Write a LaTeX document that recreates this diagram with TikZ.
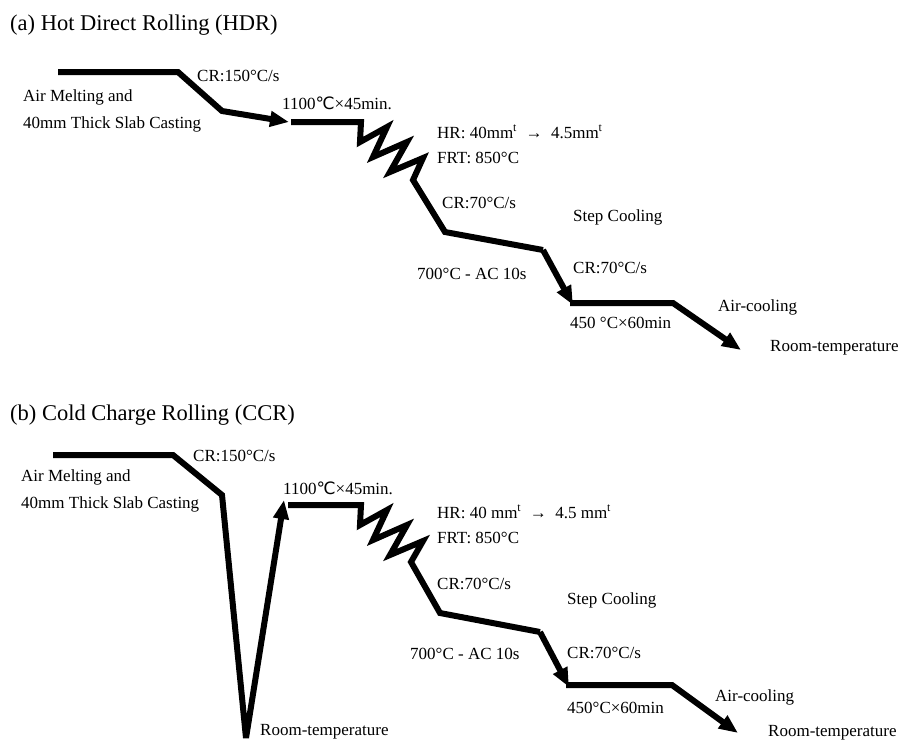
\documentclass[tikz,border=0pt]{standalone}
\usepackage{fontspec}
\setmainfont{Liberation Serif}
\newfontfamily\symfont{DejaVu Sans}
\usetikzlibrary{arrows.meta,positioning}

\newcommand{\degC}{{\symfont\char"2103}}

\begin{document}
\begin{tikzpicture}[x=1pt,y=-1pt,>={Triangle[length=19pt,width=15pt]},
    proc/.style={line width=6pt,miter limit=4},
    lbl/.style={anchor=base west,inner sep=0pt,font=\fontsize{17}{20}\selectfont},
    ttl/.style={anchor=base west,inner sep=0pt,font=\fontsize{22.5}{26}\selectfont}]
    \useasboundingbox (0,0) rectangle (898,740);

    % (a) hot direct rolling
    \node[ttl] (ta) at (10,30) {(a) Hot Direct Rolling (HDR)};

    \coordinate (a0) at (58,72);
    \coordinate (a1) at (178,72);
    \coordinate (a2) at (222,111);
    \coordinate (a3) at (289,122);
    \coordinate (b0) at (291,122);
    \coordinate (b1) at (361,122);
    \coordinate (b2) at (445,232);
    \coordinate (b3) at (543,250);
    \coordinate (b4) at (573,305);
    \coordinate (c0) at (570,303);
    \coordinate (c1) at (673,303);
    \coordinate (c2) at (741,350);

    \draw[proc,->] (a0) -- (a1) -- (a2) -- (a3);
    \draw[proc] (b0) -- (b1) -- ++(-1,20) -- ++(27,-15) -- ++(-14,30) -- ++(34,-15)
        -- ++(-17,30) -- ++(33,-14) -- ++(-10,22) -- (b2) -- (b3);
    \draw[proc,->] (b3) -- (b4);
    \draw[proc,->] (c0) -- (c1) -- (c2);

    \node[lbl] (cra)  at (197,81)  {CR:150°C/s};
    \node[lbl] (ama)  at (23,101)  {Air Melting and};
    \node[lbl] (sla)  at (23,128)  {40mm Thick Slab Casting};
    \node[lbl] (rha)  at (282,109) {1100\degC{}×45min.};
    \node[lbl] (hra)  at (437,138) {HR: 40mm\textsuperscript{t} \ → \ 4.5mm\textsuperscript{t}};
    \node[lbl] (fra)  at (437,163) {FRT: 850°C};
    \node[lbl] (cca)  at (442,208) {CR:70°C/s};
    \node[lbl] (sca)  at (573,221) {Step Cooling};
    \node[lbl] (aca)  at (417,279) {700°C - AC 10s};
    \node[lbl] (cda)  at (573,273) {CR:70°C/s};
    \node[lbl] (aia)  at (718,311) {Air-cooling};
    \node[lbl] (isa)  at (570,328) {450 °C×60min};
    \node[lbl] (rta)  at (770,351) {Room-temperature};

    % (b) cold charge rolling
    \node[ttl] (tb) at (10,420) {(b) Cold Charge Rolling (CCR)};

    \coordinate (d0) at (53,455);
    \coordinate (d1) at (173,455);
    \coordinate (d2) at (222,495);
    \coordinate (d3) at (246,738);
    \coordinate (d4) at (284,500);
    \coordinate (e0) at (288,505);
    \coordinate (e1) at (361,505);
    \coordinate (e2) at (440,613);
    \coordinate (e3) at (540,632);
    \coordinate (e4) at (569,687);
    \coordinate (f0) at (566,685);
    \coordinate (f1) at (672,685);
    \coordinate (f2) at (738,733);

    \draw[proc,->] (d0) -- (d1) -- (d2) -- (d3) -- (d4);
    \draw[proc] (e0) -- (e1) -- ++(-1,20) -- ++(27,-15) -- ++(-14,30) -- ++(34,-15)
        -- ++(-17,30) -- ++(33,-14) -- ++(-12,21) -- (e2) -- (e3);
    \draw[proc,->] (e3) -- (e4);
    \draw[proc,->] (f0) -- (f1) -- (f2);

    \node[lbl] (crb)  at (193,461) {CR:150°C/s};
    \node[lbl] (amb)  at (21,481)  {Air Melting and};
    \node[lbl] (slb)  at (21,508)  {40mm Thick Slab Casting};
    \node[lbl] (rhb)  at (283,494) {1100\degC{}×45min.};
    \node[lbl] (hrb)  at (437,518) {HR: 40 mm\textsuperscript{t} \ → \ 4.5 mm\textsuperscript{t}};
    \node[lbl] (frb)  at (437,543) {FRT: 850°C};
    \node[lbl] (ccb)  at (437,589) {CR:70°C/s};
    \node[lbl] (scb)  at (567,604) {Step Cooling};
    \node[lbl] (acb)  at (410,659) {700°C - AC 10s};
    \node[lbl] (cdb)  at (567,658) {CR:70°C/s};
    \node[lbl] (aib)  at (715,701) {Air-cooling};
    \node[lbl] (isb)  at (567,713) {450°C×60min};
    \node[lbl] (rtb)  at (768,736) {Room-temperature};
    \node[lbl] (rvb)  at (260,735) {Room-temperature};
\end{tikzpicture}
\end{document}
